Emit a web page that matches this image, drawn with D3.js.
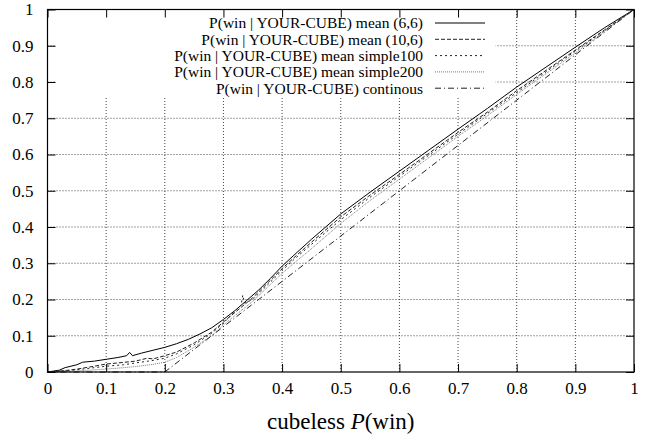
<!DOCTYPE html>
<html>
<head>
<meta charset="utf-8">
<script src="https://cdn.jsdelivr.net/npm/d3@7"></script>
<style>
  body { margin: 0; background: #fff; }
  svg text { fill: #000; }
</style>
</head>
<body>
<svg id="chart"></svg>
<script>
// series values, [x, y]
const mean66 = [[0,0],[0.02,0.005],[0.03,0.012],[0.05,0.02],[0.06,0.027],[0.08,0.03],[0.1,0.035],
  [0.12,0.04],[0.135,0.045],[0.14,0.054],[0.145,0.045],[0.16,0.052],[0.18,0.06],[0.2,0.068],
  [0.22,0.078],[0.24,0.09],[0.26,0.105],[0.28,0.122],[0.3,0.145],[0.32,0.17],[0.34,0.198],
  [0.36,0.226],[0.38,0.258],[0.4,0.292],[0.42,0.322],[0.45,0.366],[0.5,0.436],[0.55,0.496],
  [0.6,0.554],[0.65,0.612],[0.7,0.67],[0.75,0.727],[0.8,0.786],[0.85,0.841],[0.9,0.896],
  [0.95,0.95],[1,1]];
const mean106 = [[0,0],[0.03,0.004],[0.05,0.008],[0.08,0.016],[0.1,0.022],[0.12,0.025],[0.15,0.03],
  [0.17,0.038],[0.18,0.036],[0.2,0.045],[0.22,0.055],[0.25,0.08],[0.28,0.11],[0.3,0.138],
  [0.35,0.205],[0.4,0.285],[0.42,0.315],[0.45,0.358],[0.5,0.428],[0.55,0.488],[0.6,0.545],
  [0.65,0.603],[0.7,0.661],[0.75,0.717],[0.8,0.776],[0.85,0.832],[0.9,0.888],[0.95,0.944],[1,1]];
const simple100 = [[0,0],[0.03,0.003],[0.05,0.006],[0.08,0.012],[0.1,0.016],[0.13,0.02],[0.15,0.025],
  [0.18,0.032],[0.2,0.038],[0.22,0.05],[0.25,0.075],[0.28,0.107],[0.3,0.135],[0.33,0.185],
  [0.333,0.212],[0.336,0.19],[0.35,0.2],[0.4,0.28],[0.42,0.31],[0.45,0.352],[0.5,0.42],
  [0.55,0.482],[0.6,0.54],[0.65,0.598],[0.7,0.656],[0.75,0.713],[0.8,0.771],[0.85,0.828],
  [0.9,0.885],[0.95,0.942],[1,1]];
const simple200 = [[0,0],[0.03,0.001],[0.05,0.003],[0.08,0.006],[0.1,0.008],[0.13,0.012],[0.15,0.015],
  [0.18,0.021],[0.2,0.027],[0.22,0.04],[0.25,0.068],[0.28,0.1],[0.3,0.13],[0.35,0.195],
  [0.4,0.272],[0.42,0.3],[0.45,0.34],[0.5,0.41],[0.55,0.473],[0.6,0.532],[0.65,0.591],
  [0.7,0.65],[0.75,0.707],[0.8,0.766],[0.85,0.823],[0.9,0.88],[0.95,0.94],[1,1]];
const continous = [[0,0],[0.2,0],[1,1]];

const seriesNames = [
  "P(win | YOUR-CUBE) mean (6,6)",
  "P(win | YOUR-CUBE) mean (10,6)",
  "P(win | YOUR-CUBE) mean simple100",
  "P(win | YOUR-CUBE) mean simple200",
  "P(win | YOUR-CUBE) continous"
];
const tickValues = [0, 0.1, 0.2, 0.3, 0.4, 0.5, 0.6, 0.7, 0.8, 0.9, 1];

const allSeries = [mean66, mean106, simple100, simple200, continous];
const dashes = [null, "4,2", "2,3", "1,1", "6,3,1,3"];
const strokes = ["#000", "#222", "#222", "#777", "#222"];

const width = 647, height = 445;
const margin = {left: 47.5, right: 13, top: 9.5, bottom: 73};
const serif = '"Liberation Serif", "Times New Roman", Times, Tinos, "Nimbus Roman", FreeSerif, "DejaVu Serif", serif';

const svg = d3.select("#chart").attr("width", width).attr("height", height)
  .style("font-family", serif);

const x = d3.scaleLinear().domain([0, 1]).range([margin.left, width - margin.right]);
const y = d3.scaleLinear().domain([0, 1]).range([height - margin.bottom, margin.top]);

// grid
const grid = svg.append("g");
grid.selectAll(".vg").data(tickValues.slice(1, -1)).enter().append("line")
  .attr("x1", d => x(d)).attr("x2", d => x(d))
  .attr("y1", y(0)).attr("y2", y(1))
  .attr("stroke", "#444").attr("stroke-width", 1).attr("stroke-dasharray", "1,2");
grid.selectAll(".hg").data(tickValues.slice(1, -1)).enter().append("line")
  .attr("y1", d => y(d)).attr("y2", d => y(d))
  .attr("x1", x(0)).attr("x2", x(1))
  .attr("stroke", "#444").attr("stroke-width", 1).attr("stroke-dasharray", "1,2");

// key area blanks the grid
svg.append("rect").attr("x", x(0) + 8).attr("y", y(1) + 1)
  .attr("width", 440).attr("height", 87).attr("fill", "#fff");

// curves
const line = d3.line().x(d => x(d[0])).y(d => y(d[1]));
svg.selectAll(".curve").data(allSeries).enter().append("path")
  .attr("d", line)
  .attr("fill", "none")
  .attr("stroke", (d, i) => strokes[i])
  .attr("stroke-width", 1)
  .attr("stroke-dasharray", (d, i) => dashes[i]);

// axes, gnuplot style inside ticks on all sides
const tickLen = -8;
svg.append("g").attr("transform", `translate(0,${y(0)})`)
  .call(d3.axisBottom(x).tickValues(tickValues).tickSize(tickLen).tickPadding(10)
    .tickFormat(d => d3.format("")(d)))
  .call(g => g.select(".domain").remove());
svg.append("g").attr("transform", `translate(0,${y(1)})`)
  .call(d3.axisTop(x).tickValues(tickValues).tickSize(tickLen).tickFormat(""))
  .call(g => g.select(".domain").remove());
svg.append("g").attr("transform", `translate(${x(0)},0)`)
  .call(d3.axisLeft(y).tickValues(tickValues).tickSize(tickLen).tickPadding(14)
    .tickFormat(d => d3.format("")(d)))
  .call(g => g.select(".domain").remove());
svg.append("g").attr("transform", `translate(${x(1)},0)`)
  .call(d3.axisRight(y).tickValues(tickValues).tickSize(tickLen).tickFormat(""))
  .call(g => g.select(".domain").remove());
svg.selectAll("g").attr("font-family", serif);
svg.selectAll(".tick text").attr("font-size", 17);
svg.selectAll(".tick line").attr("stroke", "#000");

svg.append("rect").attr("x", x(0)).attr("y", y(1))
  .attr("width", x(1) - x(0)).attr("height", y(0) - y(1))
  .attr("fill", "none").attr("stroke", "#000").attr("stroke-width", 1.2);

// key
const key = svg.append("g");
seriesNames.forEach((name, i) => {
  const ky = 23 + i * 16.3;
  key.append("text").attr("x", 423).attr("y", ky).attr("dy", "0.35em")
    .attr("text-anchor", "end").attr("font-size", 15.5).text(name);
  key.append("line").attr("x1", 435).attr("x2", 485).attr("y1", ky).attr("y2", ky)
    .attr("stroke", strokes[i]).attr("stroke-width", 1)
    .attr("stroke-dasharray", dashes[i]);
});

// x label
const xl = svg.append("text").attr("x", x(0.5)).attr("y", 429)
  .attr("text-anchor", "middle").attr("font-size", 23);
xl.append("tspan").text("cubeless ");
xl.append("tspan").attr("font-style", "italic").text("P");
xl.append("tspan").text("(win)");
</script>
</body>
</html>
